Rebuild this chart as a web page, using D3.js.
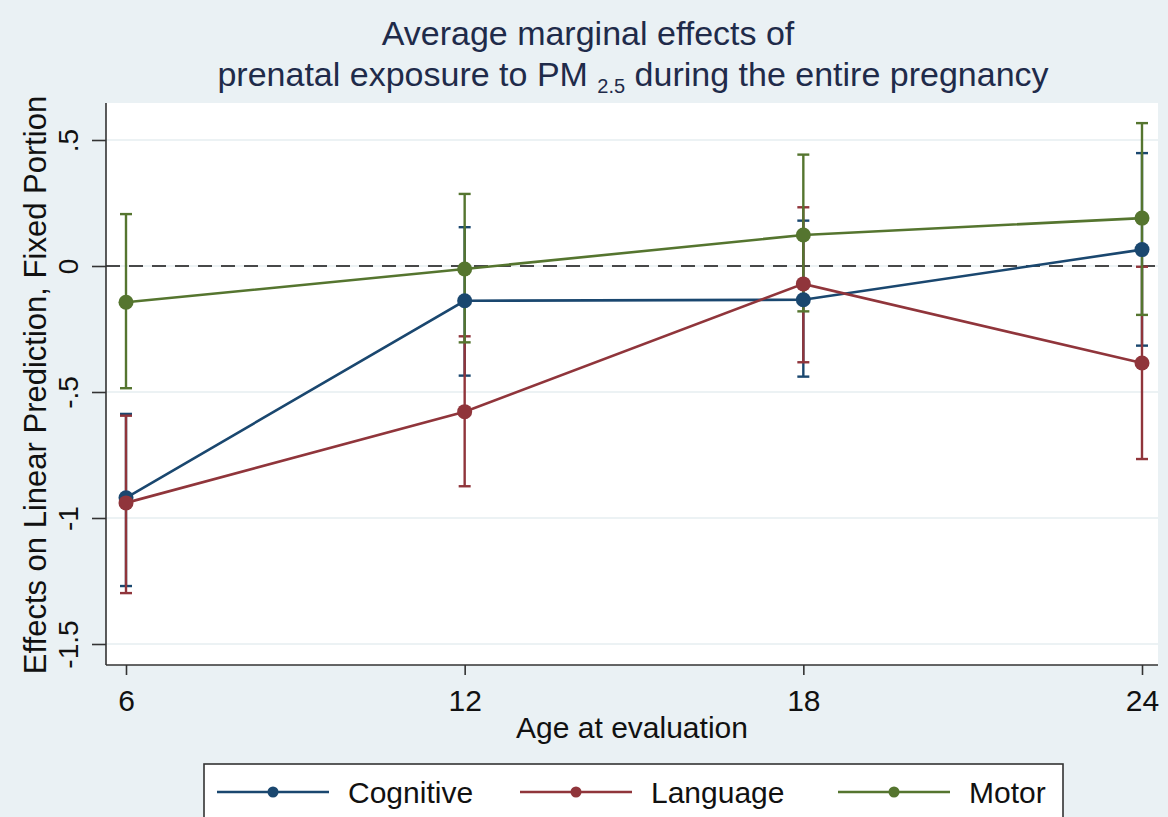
<!DOCTYPE html>
<html><head><meta charset="utf-8">
<script src="https://cdn.jsdelivr.net/npm/d3@7"></script>
<style>html,body{margin:0;padding:0;background:#eaf1f4;}svg{display:block;}</style>
</head><body>
<script>
const ages = [6, 12, 18, 24];
const yTicks = [-1.5, -1, -0.5, 0, 0.5];
const yTickLabels = ["-1.5", "-1", "-.5", "0", ".5"];
const seriesNames = ["Cognitive", "Language", "Motor"];
const cognitive   = [-0.92, -0.138, -0.134, 0.065];
const cognitiveLo = [-1.27, -0.435, -0.439, -0.316];
const cognitiveHi = [-0.587, 0.154, 0.18, 0.448];
const language    = [-0.94, -0.578, -0.071, -0.385];
const languageLo  = [-1.298, -0.874, -0.382, -0.766];
const languageHi  = [-0.594, -0.279, 0.233, -0.003];
const motor       = [-0.144, -0.012, 0.123, 0.19];
const motorLo     = [-0.485, -0.303, -0.18, -0.194];
const motorHi     = [0.206, 0.286, 0.442, 0.567];

const colors = ["#1a476f", "#90353b", "#55752f"];
const series = [
  {name: seriesNames[0], v: cognitive, lo: cognitiveLo, hi: cognitiveHi, c: colors[0]},
  {name: seriesNames[1], v: language, lo: languageLo, hi: languageHi, c: colors[1]},
  {name: seriesNames[2], v: motor, lo: motorLo, hi: motorHi, c: colors[2]}
];

const W = 1168, H = 817;
const font = "'Liberation Sans', Arial, sans-serif";
const svg = d3.select("body").append("svg").attr("width", W).attr("height", H);
svg.append("rect").attr("width", W).attr("height", H).attr("fill", "#eaf1f4");

const x = d3.scaleLinear().domain([6, 24]).range([126, 1142]);
const y = d3.scaleLinear().domain([-1.5, 0.5]).range([644, 140]);
const pl = 106, pr = 1158, pt = 103, pb = 665;

// plot region
svg.append("rect").attr("x", pl).attr("y", pt).attr("width", pr - pl).attr("height", pb - pt).attr("fill", "#ffffff");

// grid
svg.append("g").selectAll("line").data(yTicks).join("line")
  .attr("x1", pl).attr("x2", pr).attr("y1", d => y(d)).attr("y2", d => y(d))
  .attr("stroke", "#e6eef1").attr("stroke-width", 1.6);

// zero dashed line
svg.append("line").attr("x1", pl).attr("x2", pr).attr("y1", y(0)).attr("y2", y(0))
  .attr("stroke", "#111").attr("stroke-width", 1.6).attr("stroke-dasharray", "14,9");

// axes
const yAxis = d3.axisLeft(y).tickValues(yTicks).tickFormat((d, i) => yTickLabels[i]).tickSize(14).tickPadding(0);
const gy = svg.append("g").attr("transform", `translate(${pl},0)`).call(yAxis);
gy.select(".domain").attr("d", `M0,${pt}V${pb}`).attr("stroke", "#333").attr("stroke-width", 1.6);
gy.selectAll(".tick line").attr("stroke", "#333").attr("stroke-width", 1.6);
gy.selectAll(".tick text")
  .attr("transform", "rotate(-90)")
  .attr("x", 0).attr("y", -28).attr("dy", 0)
  .attr("text-anchor", "middle")
  .style("font-family", font).style("font-size", "28px").attr("fill", "#111");

const xAxis = d3.axisBottom(x).tickValues(ages).tickFormat(d3.format("d")).tickSize(10).tickPadding(0);
const gx = svg.append("g").attr("transform", `translate(0,${pb})`).call(xAxis);
gx.select(".domain").attr("d", `M${pl},0H${pr}`).attr("stroke", "#333").attr("stroke-width", 1.6);
gx.selectAll(".tick line").attr("stroke", "#333").attr("stroke-width", 1.6);
gx.selectAll(".tick text").attr("y", 46).attr("dy", 0)
  .style("font-family", font).style("font-size", "30px").attr("fill", "#111");

// error bars and lines
const line = d3.line().x((d, i) => x(ages[i])).y(d => y(d));
series.forEach(s => {
  const g = svg.append("g");
  ages.forEach((a, i) => {
    g.append("line").attr("x1", x(a)).attr("x2", x(a)).attr("y1", y(s.lo[i])).attr("y2", y(s.hi[i]))
      .attr("stroke", s.c).attr("stroke-width", 2.4);
    [s.lo[i], s.hi[i]].forEach(v => {
      g.append("line").attr("x1", x(a) - 6).attr("x2", x(a) + 6).attr("y1", y(v)).attr("y2", y(v))
        .attr("stroke", s.c).attr("stroke-width", 2.4);
    });
  });
});
series.forEach(s => {
  svg.append("path").datum(s.v).attr("d", line).attr("fill", "none")
    .attr("stroke", s.c).attr("stroke-width", 2.6);
  svg.append("g").selectAll("circle").data(s.v).join("circle")
    .attr("cx", (d, i) => x(ages[i])).attr("cy", d => y(d)).attr("r", 7.5).attr("fill", s.c);
});

// titles
const t = svg.append("g").style("font-family", font).attr("fill", "#1f2b4a");
t.append("text").attr("x", 588).attr("y", 45).attr("text-anchor", "middle").style("font-size", "34px")
  .text("Average marginal effects of");
const t2 = t.append("text").attr("x", 633).attr("y", 86).attr("text-anchor", "middle").style("font-size", "34px");
t2.append("tspan").text("prenatal exposure to PM ");
t2.append("tspan").attr("dy", 7).style("font-size", "20px").text("2.5");
t2.append("tspan").attr("dy", -7).text(" during the entire pregnancy");

svg.append("text").attr("transform", `translate(46,${(pt + pb) / 2 + 1}) rotate(-90)`)
  .attr("text-anchor", "middle").style("font-family", font).style("font-size", "31px").attr("fill", "#111")
  .text("Effects on Linear Prediction, Fixed Portion");
svg.append("text").attr("x", 632).attr("y", 738).attr("text-anchor", "middle")
  .style("font-family", font).style("font-size", "30px").attr("fill", "#111")
  .text("Age at evaluation");

// legend
svg.append("rect").attr("x", 204).attr("y", 764).attr("width", 859).attr("height", 80)
  .attr("fill", "#ffffff").attr("stroke", "#333").attr("stroke-width", 1.6);
const legX = [217, 520, 838];
series.forEach((s, i) => {
  const lx = legX[i];
  svg.append("line").attr("x1", lx).attr("x2", lx + 112).attr("y1", 792).attr("y2", 792)
    .attr("stroke", s.c).attr("stroke-width", 2.6);
  svg.append("circle").attr("cx", lx + 56).attr("cy", 792).attr("r", 5.5).attr("fill", s.c);
  svg.append("text").attr("x", lx + 131).attr("y", 803)
    .style("font-family", font).style("font-size", "30px").attr("fill", "#111").text(s.name);
});
</script>
</body></html>
